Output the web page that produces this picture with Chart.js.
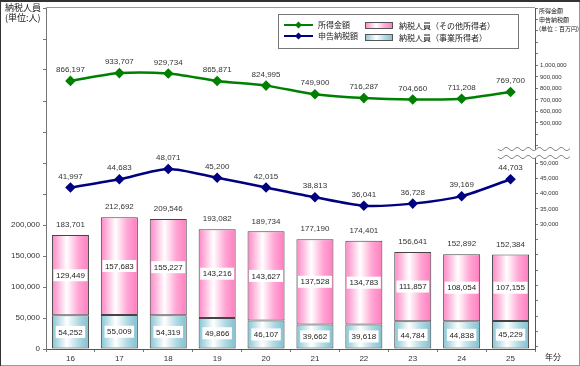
<!DOCTYPE html>
<html>
<head>
<meta charset="utf-8">
<script src="https://cdn.jsdelivr.net/npm/chart.js@4/dist/chart.umd.min.js"></script>
<style>
  html, body { margin: 0; padding: 0; background: #fff; }
  #wrap { width: 580px; height: 366px; position: relative; }
</style>
</head>
<body>
<div id="wrap"><canvas id="chart" width="580" height="366"></canvas></div>
<script>
const years = ["16", "17", "18", "19", "20", "21", "22", "23", "24", "25"];
const incomeAmount = [866197, 933707, 929734, 865871, 824995, 749900, 716287, 704660, 711208, 769700];
const taxAmount = [41997, 44683, 48071, 45200, 42015, 38813, 36041, 36728, 39169, 44703];
const otherPayers = [129449, 157683, 155227, 143216, 143627, 137528, 134783, 111857, 108054, 107155];
const businessPayers = [54252, 55009, 54319, 49866, 46107, 39662, 39618, 44784, 44838, 45229];
const payerTotals = [183701, 212692, 209546, 193082, 189734, 177190, 174401, 156641, 152892, 152384];
const payerTicks = [0, 50000, 100000, 150000, 200000];
const incomeTicks = [500000, 600000, 700000, 800000, 900000, 1000000];
const taxTicks = [30000, 35000, 40000, 45000, 50000];

const NUM_FONT = '"Liberation Sans", Arial, sans-serif';
const JP_FONT = '"Noto Sans CJK JP", sans-serif';
const PINK_STOPS = [[0, "#ff84c4"], [0.4, "#ffffff"], [0.72, "#ffa6d4"], [1, "#ff7cbf"]];
const BLUE_STOPS = [[0, "#84c4d4"], [0.4, "#ffffff"], [0.72, "#b0d9e3"], [1, "#80c0d0"]];

const fmt = v => Number(v).toLocaleString("en-US");

// tick marks every `step` over the whole scale, labels only where listed
function stepTicks(step) {
  return scale => {
    const out = [];
    for (let v = Math.ceil(scale.min / step) * step; v <= scale.max; v += step) out.push({ value: v });
    scale.ticks = out;
  };
}

function barFill(stops) {
  return ctx => {
    const chart = ctx.chart;
    if (ctx.type !== "data" || !chart.chartArea) return stops[0][1];
    const x = chart.scales.x.getPixelForValue(ctx.dataIndex);
    const g = chart.ctx.createLinearGradient(x - 18.5, 0, x + 18.5, 0);
    stops.forEach(([o, c]) => g.addColorStop(o, c));
    return g;
  };
}

function boxFill(c, x, w, stops) {
  const g = c.createLinearGradient(x, 0, x + w, 0);
  stops.forEach(([o, col]) => g.addColorStop(o, col));
  return g;
}

const labelPlugin = {
  id: "valueLabels",
  afterDatasetsDraw(chart) {
    const c = chart.ctx;
    c.save();
    c.font = `8px ${NUM_FONT}`;
    c.textAlign = "center";
    c.textBaseline = "middle";
    [0, 1].forEach(di => {
      const values = chart.data.datasets[di].data;
      chart.getDatasetMeta(di).data.forEach((el, i) => {
        const y = (el.y + el.base) / 2;
        const txt = fmt(values[i]);
        const w = c.measureText(txt).width + 5;
        c.fillStyle = "#fff";
        c.fillRect(el.x - w / 2, y - 6, w, 12);
        c.fillStyle = "#222";
        c.fillText(txt, el.x, y + 0.5);
      });
    });
    c.fillStyle = "#333";
    chart.getDatasetMeta(1).data.forEach((el, i) => {
      c.fillText(fmt(payerTotals[i]), el.x, el.y - 10);
    });
    [2, 3].forEach(di => {
      const values = chart.data.datasets[di].data;
      chart.getDatasetMeta(di).data.forEach((el, i) => {
        c.fillText(fmt(values[i]), el.x, el.y - 11);
      });
    });
    c.restore();
  }
};

function wavePath(c, x0, x1, y, back) {
  const pts = [];
  for (let x = x0; x <= x1; x++) pts.push([x, y + 1.6 * Math.sin((x - x0) / 11 * 2 * Math.PI)]);
  if (back) pts.reverse();
  pts.forEach(([x, yy], i) => (i === 0 && !back ? c.moveTo(x, yy) : c.lineTo(x, yy)));
}

const decorPlugin = {
  id: "decor",
  afterDraw(chart) {
    const c = chart.ctx;
    const area = chart.chartArea;
    c.save();
    // frame
    c.lineWidth = 1;
    c.strokeStyle = "#999";
    c.strokeRect(0.5, 0.5, 579, 365);
    c.strokeStyle = "#333";
    c.lineWidth = 2;
    c.beginPath(); c.moveTo(0, 1); c.lineTo(580, 1); c.stroke();
    c.lineWidth = 1;
    c.beginPath(); c.moveTo(0.5, 0); c.lineTo(0.5, 366); c.stroke();
    // top border of plot
    c.strokeStyle = "#999";
    c.beginPath(); c.moveTo(area.left, area.top - 0.5); c.lineTo(area.right, area.top - 0.5); c.stroke();

    // axis break
    c.fillStyle = "#fff";
    c.beginPath();
    wavePath(c, 498, 570, 149, false);
    wavePath(c, 498, 570, 157, true);
    c.closePath();
    c.fill();
    c.strokeStyle = "#888";
    c.beginPath(); wavePath(c, 498, 570, 149, false); c.stroke();
    c.beginPath(); wavePath(c, 498, 570, 157, false); c.stroke();

    // titles
    c.fillStyle = "#222";
    c.textBaseline = "middle";
    c.textAlign = "left";
    c.font = `9px ${JP_FONT}`;
    c.fillText("納税人員", 5, 8);
    c.fillText("(単位:人)", 5, 18);
    c.font = `6px ${JP_FONT}`;
    c.fillText("所得金額", 539, 11);
    c.fillText("申告納税額", 539, 20);
    c.fillText("(単位：百万円)", 539, 29);
    c.font = `8px ${JP_FONT}`;
    c.fillText("年分", 545, 357);

    // legend
    c.strokeStyle = "#777";
    c.strokeRect(278.5, 14.5, 240, 34);
    const lineItems = [["所得金額", "#008000", 25], ["申告納税額", "#000080", 36]];
    lineItems.forEach(([txt, col, y]) => {
      c.strokeStyle = col;
      c.fillStyle = col;
      c.lineWidth = 2;
      c.beginPath(); c.moveTo(284, y); c.lineTo(313, y); c.stroke();
      c.beginPath();
      c.moveTo(298.5, y - 3.5); c.lineTo(302, y); c.lineTo(298.5, y + 3.5); c.lineTo(295, y);
      c.closePath(); c.fill();
      c.fillStyle = "#222";
      c.fillText(txt, 318, y);
    });
    const boxItems = [["納税人員（その他所得者）", PINK_STOPS, 22], ["納税人員（事業所得者）", BLUE_STOPS, 34]];
    boxItems.forEach(([txt, stops, y]) => {
      c.fillStyle = boxFill(c, 365, 28, stops);
      c.fillRect(365, y, 28, 7);
      c.strokeStyle = "#555";
      c.lineWidth = 1;
      c.strokeRect(365.5, y + 0.5, 27, 6);
      c.fillStyle = "#222";
      c.fillText(txt, 399, y + 4);
    });
    c.restore();
  }
};

const tickFont = { family: NUM_FONT, size: 8 };
const smallFont = { family: NUM_FONT, size: 6 };

new Chart(document.getElementById("chart"), {
  data: {
    labels: years,
    datasets: [
      {
        type: "bar",
        label: "納税人員（事業所得者）",
        data: businessPayers,
        yAxisID: "y",
        stack: "payers",
        backgroundColor: barFill(BLUE_STOPS),
        borderColor: "#444",
        borderWidth: 1,
        borderSkipped: false,
        barPercentage: 0.757,
        categoryPercentage: 1,
        order: 2
      },
      {
        type: "bar",
        label: "納税人員（その他所得者）",
        data: otherPayers,
        yAxisID: "y",
        stack: "payers",
        backgroundColor: barFill(PINK_STOPS),
        borderColor: "#444",
        borderWidth: 1,
        borderSkipped: false,
        barPercentage: 0.757,
        categoryPercentage: 1,
        order: 2
      },
      {
        type: "line",
        label: "所得金額",
        data: incomeAmount,
        yAxisID: "yIncome",
        borderColor: "#008000",
        backgroundColor: "#008000",
        borderWidth: 2.5,
        pointStyle: "rectRot",
        pointRadius: 3.5,
        tension: 0.25,
        order: 1
      },
      {
        type: "line",
        label: "申告納税額",
        data: taxAmount,
        yAxisID: "yTax",
        borderColor: "#000080",
        backgroundColor: "#000080",
        borderWidth: 2.5,
        pointStyle: "rectRot",
        pointRadius: 3.5,
        tension: 0.25,
        order: 1
      }
    ]
  },
  options: {
    responsive: false,
    animation: false,
    layout: { padding: { top: 8, left: 0, right: 0, bottom: 0 } },
    plugins: { legend: { display: false }, tooltip: { enabled: false } },
    scales: {
      x: {
        stacked: true,
        grid: { drawOnChartArea: false, tickLength: 3, color: "#777" },
        border: { color: "#555" },
        ticks: { font: tickFont, color: "#333", padding: 2 },
        afterFit: s => { s.height = 17; }
      },
      y: {
        position: "left",
        stacked: true,
        min: 0,
        max: 550000,
        grid: { drawOnChartArea: false, tickLength: 3, color: "#777" },
        border: { color: "#777" },
        ticks: {
          font: tickFont,
          color: "#333",
          padding: 3,
          autoSkip: false,
          callback: v => (payerTicks.includes(v) ? fmt(v) : "")
        },
        afterBuildTicks: stepTicks(50000),
        afterFit: s => { s.width = 46; }
      },
      yIncome: {
        position: "right",
        stack: "right",
        stackWeight: 145,
        min: 239000,
        max: 1500000,
        grid: { drawOnChartArea: false, tickLength: 3, color: "#777" },
        border: { color: "#555" },
        ticks: {
          font: smallFont,
          color: "#333",
          padding: 2,
          autoSkip: false,
          callback: v => (incomeTicks.includes(v) ? fmt(v) : "")
        },
        afterBuildTicks: stepTicks(100000),
        afterFit: s => { s.width = 45; }
      },
      yTax: {
        position: "right",
        stack: "right",
        stackWeight: 196,
        min: -10780,
        max: 53270,
        grid: { drawOnChartArea: false, tickLength: 3, color: "#777" },
        border: { color: "#555" },
        ticks: {
          font: smallFont,
          color: "#333",
          padding: 2,
          autoSkip: false,
          callback: v => (taxTicks.includes(v) ? fmt(v) : "")
        },
        afterBuildTicks: stepTicks(5000),
        afterFit: s => { s.width = 45; }
      }
    }
  },
  plugins: [labelPlugin, decorPlugin]
});
</script>
</body>
</html>
